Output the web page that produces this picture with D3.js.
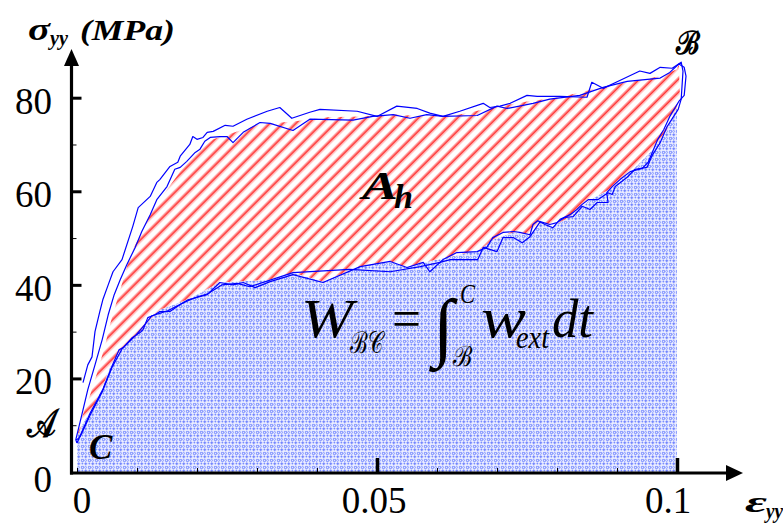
<!DOCTYPE html>
<html><head><meta charset="utf-8">
<script src="https://cdn.jsdelivr.net/npm/d3@7"></script>
<style>
body{margin:0;background:#fff}
svg{display:block}
</style>
</head><body>
<svg id="c" width="783" height="523"></svg>
<script>
// ---------- data (strain, stress MPa) ----------
const yLabelValues = [0, 20, 40, 60, 80];
const yMajorTicks = [20, 40, 60, 80];
const yMinorTicks = [10, 30, 50, 70];
const xLabelValues = [0, 0.05, 0.1];
const xLabelTexts = ["0", "0.05", "0.1"];
const xMajorTicks = [0.05, 0.1];
const xMinorTicks = [0, 0.01, 0.02, 0.03, 0.04, 0.06, 0.07, 0.08, 0.09];

// cycle 1: loading A -> B (outer upper trace)
const loading1 = [[0.0010,19.1],[0.0018,22.9],[0.0025,24.6],[0.0030,30.0],[0.0038,34.3],[0.0043,36.8],[0.0052,40.0],[0.0060,42.8],[0.0075,45.4],[0.0093,52.5],[0.0102,56.5],[0.0122,58.9],[0.0133,61.9],[0.0138,62.5],[0.0155,65.3],[0.0168,66.2],[0.0172,67.5],[0.0188,70.0],[0.0193,71.7],[0.0200,71.1],[0.0210,71.5],[0.0217,72.6],[0.0227,72.8],[0.0247,74.1],[0.0260,73.9],[0.0283,75.4],[0.0317,77.1],[0.0338,77.9],[0.0358,75.6],[0.0388,76.9],[0.0405,77.5],[0.0467,77.1],[0.0500,76.0],[0.0533,78.2],[0.0567,77.7],[0.0588,76.7],[0.0610,76.0],[0.0638,77.1],[0.0677,78.8],[0.0688,77.9],[0.0705,78.2],[0.0722,78.8],[0.0750,80.5],[0.0767,80.3],[0.0805,80.3],[0.0850,80.1],[0.0858,83.3],[0.0877,82.0],[0.0902,83.5],[0.0938,85.7],[0.0955,85.2],[0.0972,86.5],[0.0992,86.3],[0.1007,87.6]];
// cycle 1: unloading B -> C
const unloading1 = [[0.1007,87.6],[0.1010,85.7],[0.1007,79.7],[0.1002,77.5],[0.0983,73.7],[0.0972,70.4],[0.0958,67.5],[0.0950,65.1],[0.0930,64.7],[0.0917,63.0],[0.0897,61.0],[0.0892,59.3],[0.0885,59.7],[0.0868,58.2],[0.0852,58.2],[0.0842,57.2],[0.0833,56.1],[0.0822,55.0],[0.0805,54.0],[0.0793,52.2],[0.0780,52.9],[0.0768,53.7],[0.0760,52.9],[0.0755,50.7],[0.0738,51.2],[0.0727,51.4],[0.0710,51.2],[0.0693,50.1],[0.0683,48.0],[0.0667,47.1],[0.0633,46.9],[0.0610,45.4],[0.0588,42.8],[0.0577,44.8],[0.0550,43.7],[0.0522,45.0],[0.0472,43.9],[0.0410,40.5],[0.0360,42.2],[0.0322,40.7],[0.0297,39.4],[0.0277,40.5],[0.0260,40.0],[0.0238,40.5],[0.0217,37.9],[0.0200,37.3],[0.0185,36.8],[0.0172,35.8],[0.0155,34.3],[0.0138,34.3],[0.0130,33.6],[0.0118,33.0],[0.0110,30.4],[0.0105,29.8],[0.0092,28.7],[0.0077,26.6],[0.0070,26.1],[0.0058,22.5],[0.0043,17.6],[0.0022,12.6],[0.0000,6.2]];
// cycle 2: loading (inner upper trace)
const loading2 = [[0.0000,6.2],[-0.0002,6.9],[0.0008,12.2],[0.0018,17.6],[0.0030,22.9],[0.0042,28.3],[0.0052,33.6],[0.0062,37.9],[0.0072,41.1],[0.0083,44.3],[0.0097,48.0],[0.0108,51.4],[0.0122,55.0],[0.0133,58.2],[0.0150,61.0],[0.0163,64.7],[0.0172,65.1],[0.0183,66.4],[0.0197,68.3],[0.0205,69.0],[0.0213,70.7],[0.0222,71.5],[0.0238,71.7],[0.0250,71.7],[0.0260,70.4],[0.0277,72.6],[0.0305,74.7],[0.0322,74.5],[0.0360,73.0],[0.0388,75.4],[0.0460,75.2],[0.0493,76.0],[0.0527,76.4],[0.0555,75.6],[0.0583,76.4],[0.0610,76.0],[0.0667,76.2],[0.0700,78.2],[0.0717,77.7],[0.0760,78.8],[0.0788,79.7],[0.0838,80.5],[0.0877,82.2],[0.0917,83.5],[0.0972,84.2],[0.0988,85.4],[0.1003,87.2]];
// cycle 2: unloading
const unloading2 = [[0.1003,87.2],[0.1012,86.5],[0.1015,84.6],[0.1012,80.5],[0.1003,79.2],[0.0988,76.0],[0.0978,73.2],[0.0968,71.1],[0.0952,66.2],[0.0942,64.9],[0.0922,64.2],[0.0905,62.5],[0.0892,61.0],[0.0883,59.7],[0.0885,57.6],[0.0867,57.6],[0.0855,56.1],[0.0842,56.8],[0.0827,54.6],[0.0813,54.4],[0.0800,53.3],[0.0788,52.9],[0.0772,53.5],[0.0763,51.8],[0.0755,50.3],[0.0742,49.0],[0.0727,50.1],[0.0710,50.1],[0.0700,47.1],[0.0677,48.0],[0.0668,45.4],[0.0622,45.4],[0.0605,44.8],[0.0572,43.9],[0.0522,42.8],[0.0455,43.3],[0.0360,42.6],[0.0288,39.6],[0.0267,40.3],[0.0242,40.0],[0.0218,38.1],[0.0197,37.3],[0.0175,36.0],[0.0152,34.5],[0.0125,33.4],[0.0113,31.5],[0.0097,29.1],[0.0075,26.3],[0.0058,22.3],[0.0042,17.1],[0.0022,12.2],[0.0005,7.5],[-0.0002,6.7]];
// hysteresis area A_h boundaries
const hatchUpper = [[0.0000,7.5],[0.0005,10.5],[0.0022,16.5],[0.0035,21.8],[0.0047,27.2],[0.0055,31.5],[0.0067,36.8],[0.0077,41.1],[0.0088,46.0],[0.0105,50.7],[0.0122,55.0],[0.0138,58.2],[0.0172,64.2],[0.0200,68.3],[0.0227,71.1],[0.0267,72.8],[0.0305,74.3],[0.0360,74.9],[0.0417,75.8],[0.0472,76.0],[0.0527,76.4],[0.0583,76.0],[0.0638,76.4],[0.0693,77.9],[0.0750,79.2],[0.0805,80.1],[0.0860,81.8],[0.0917,83.3],[0.0972,84.6],[0.1000,86.1],[0.1003,87.2]];
const hatchLower = [[0.1003,87.2],[0.1005,79.7],[0.0983,73.2],[0.0960,69.0],[0.0927,64.7],[0.0893,60.8],[0.0855,58.2],[0.0822,54.6],[0.0793,52.5],[0.0772,53.5],[0.0755,50.7],[0.0727,51.2],[0.0693,49.7],[0.0672,47.5],[0.0622,46.0],[0.0577,44.8],[0.0550,43.7],[0.0522,45.0],[0.0472,43.9],[0.0410,40.7],[0.0360,42.6],[0.0322,41.1],[0.0238,40.5],[0.0183,36.8],[0.0138,34.7],[0.0117,31.9],[0.0100,29.3],[0.0072,26.1],[0.0055,22.5],[0.0043,18.2],[0.0027,13.9],[0.0010,10.5],[0.0000,7.5]];

// ---------- drawing ----------
const SERIF = '"Liberation Serif"';
const svg = d3.select("#c");
const x = d3.scaleLinear().domain([0, 0.1]).range([77, 677]);
const y = d3.scaleLinear().domain([0, 80]).range([472, 97.7]);
const axisX = x(0) - 5.5;   // vertical axis line position
const axisY = 473;          // horizontal axis line position

const defs = svg.append("defs");
// blue dotted texture
const bp = defs.append("pattern").attr("id","blueDots").attr("patternUnits","userSpaceOnUse")
  .attr("width",7).attr("height",7);
bp.append("rect").attr("width",7).attr("height",7).attr("fill","#eceeff");
bp.append("path").attr("d","M0.3,1.8h3M1.8,0.3v3").attr("stroke","#2040ff").attr("stroke-width",0.9).attr("opacity",0.7);
bp.append("path").attr("d","M4.4,4.4h2.2v2h-2.2z").attr("fill","none").attr("stroke","#2f4dff").attr("stroke-width",0.8).attr("opacity",0.65);
bp.append("circle").attr("cx",5.4).attr("cy",1.5).attr("r",0.9).attr("fill","#3a58ff").attr("opacity",0.65);
bp.append("circle").attr("cx",1.6).attr("cy",5.4).attr("r",1).attr("fill","none").attr("stroke","#3a58ff").attr("stroke-width",0.7).attr("opacity",0.65);
// red diagonal hatch
const rp = defs.append("pattern").attr("id","redHatch").attr("patternUnits","userSpaceOnUse")
  .attr("width",9.2).attr("height",10).attr("patternTransform","rotate(45)");
rp.append("rect").attr("x",0).attr("width",4.2).attr("height",10).attr("fill","#ff8a8a").attr("opacity",0.65);
rp.append("rect").attr("x",1.4).attr("width",1.4).attr("height",10).attr("fill","#ff1a1a").attr("opacity",0.85);

defs.append("clipPath").attr("id","clipW").append("rect")
  .attr("x", axisX+1.5).attr("y", 0).attr("width", x(0.1) - axisX - 1.5).attr("height", axisY);

const line = d3.line().x(d => x(d[0])).y(d => y(d[1]));

// external work area under the unloading curve
const workPoly = hatchLower.concat([[0,0],[0.1003,0]]);
svg.append("path").attr("d", line(workPoly) + "Z").attr("fill","url(#blueDots)")
  .attr("clip-path","url(#clipW)");

// hysteresis area
const hystPoly = hatchUpper.concat(hatchLower.slice(1));
svg.append("path").attr("d", line(hystPoly) + "Z").attr("fill","#fff");
svg.append("path").attr("d", line(hystPoly) + "Z").attr("fill","url(#redHatch)");

// measured curves
[loading1.concat(unloading1.slice(1)), loading2.concat(unloading2.slice(1))].forEach(c => {
  svg.append("path").attr("d", line(c)).attr("fill","none").attr("stroke","#0000ff")
    .attr("stroke-width",1.2).attr("stroke-linejoin","round");
});

// ---------- axes ----------
const ax = svg.append("g");
const gyM = ax.append("g").attr("transform",`translate(${axisX},0)`)
  .call(d3.axisRight(y).tickValues(yMajorTicks).tickSize(10).tickFormat(""));
gyM.select(".domain").remove();
gyM.selectAll(".tick line").attr("stroke","#000").attr("stroke-width",3);
const gym = ax.append("g").attr("transform",`translate(${axisX},0)`)
  .call(d3.axisRight(y).tickValues(yMinorTicks).tickSize(5).tickFormat(""));
gym.select(".domain").remove();
gym.selectAll(".tick line").attr("stroke","#000").attr("stroke-width",1);
const gxM = ax.append("g").attr("transform",`translate(0,${axisY})`)
  .call(d3.axisTop(x).tickValues(xMajorTicks).tickSize(15).tickFormat(""));
gxM.select(".domain").remove();
gxM.selectAll(".tick line").attr("stroke","#000").attr("stroke-width",3.5);
const gxm = ax.append("g").attr("transform",`translate(0,${axisY})`)
  .call(d3.axisTop(x).tickValues(xMinorTicks).tickSize(5).tickFormat(""));
gxm.select(".domain").remove();
gxm.selectAll(".tick line").attr("stroke","#000").attr("stroke-width",1);

ax.append("line").attr("x1",axisX).attr("x2",axisX).attr("y1",axisY+1.5).attr("y2",62)
  .attr("stroke","#000").attr("stroke-width",3.2);
ax.append("path").attr("d",`M${axisX},49 L${axisX-7.5},66 L${axisX+7.5},66 Z`).attr("fill","#000");
ax.append("line").attr("x1",axisX-1.5).attr("x2",730).attr("y1",axisY).attr("y2",axisY)
  .attr("stroke","#000").attr("stroke-width",3.2);
ax.append("path").attr("d",`M743,${axisY} L726,${axisY-8} L726,${axisY+8} Z`).attr("fill","#000");

ax.selectAll("text.yl").data(yLabelValues).join("text").attr("class","yl")
  .attr("x",52).attr("y",d => y(d) + (d === 0 ? 20 : 16)).attr("text-anchor","end")
  .style("font-family",SERIF).attr("font-size",37).text(d => d);
ax.selectAll("text.xl").data(xLabelValues).join("text").attr("class","xl")
  .attr("x",(d,i) => x(d) + [5,-3,-9][i]).attr("y",513).attr("text-anchor","middle")
  .style("font-family",SERIF).attr("font-size",37).text((d,i) => xLabelTexts[i]);

// ---------- labels ----------
function t(str, px, py, size, opts={}) {
  const e = svg.append("text").attr("x",px).attr("y",py).attr("font-size",size)
    .style("font-family", opts.family || SERIF).text(str);
  if (opts.bold) e.attr("font-weight","bold");
  if (opts.italic !== false) e.attr("font-style","italic");
  if (opts.len) e.attr("textLength",opts.len).attr("lengthAdjust","spacingAndGlyphs");
  return e;
}
t("σ", 28, 40, 32, {bold:true, len:22});
t("yy", 50, 45, 21, {bold:true, len:18});
t("(MPa)", 80, 40, 29, {bold:true, len:95});
t("ε", 745, 512, 30, {bold:true, len:22});
t("yy", 766, 518, 20, {bold:true, len:17});
t("𝒜", 27, 437, 40, {italic:false, bold:true, len:29});
t("C", 89, 459, 35, {bold:true});
t("ℬ", 676, 54, 32, {bold:true, italic:false, len:24});
t("A", 362, 199, 41, {bold:true, len:36});
t("h", 394, 208, 34, {bold:true, len:19});
t("W", 301, 337, 55, {len:52});
t("ℬ𝒞", 350, 353, 30, {italic:false, len:33});
t("=", 392, 337, 54, {italic:false, len:29});
t("∫", 433, 352, 76, {italic:false});
t("C", 460, 303, 27, {len:15});
t("ℬ", 453, 366, 28, {italic:false, len:19});
t("w", 481, 337, 58, {len:45});
t("ext", 516, 348, 31, {len:33});
t("dt", 552, 337, 55, {len:41});
</script>
</body></html>
